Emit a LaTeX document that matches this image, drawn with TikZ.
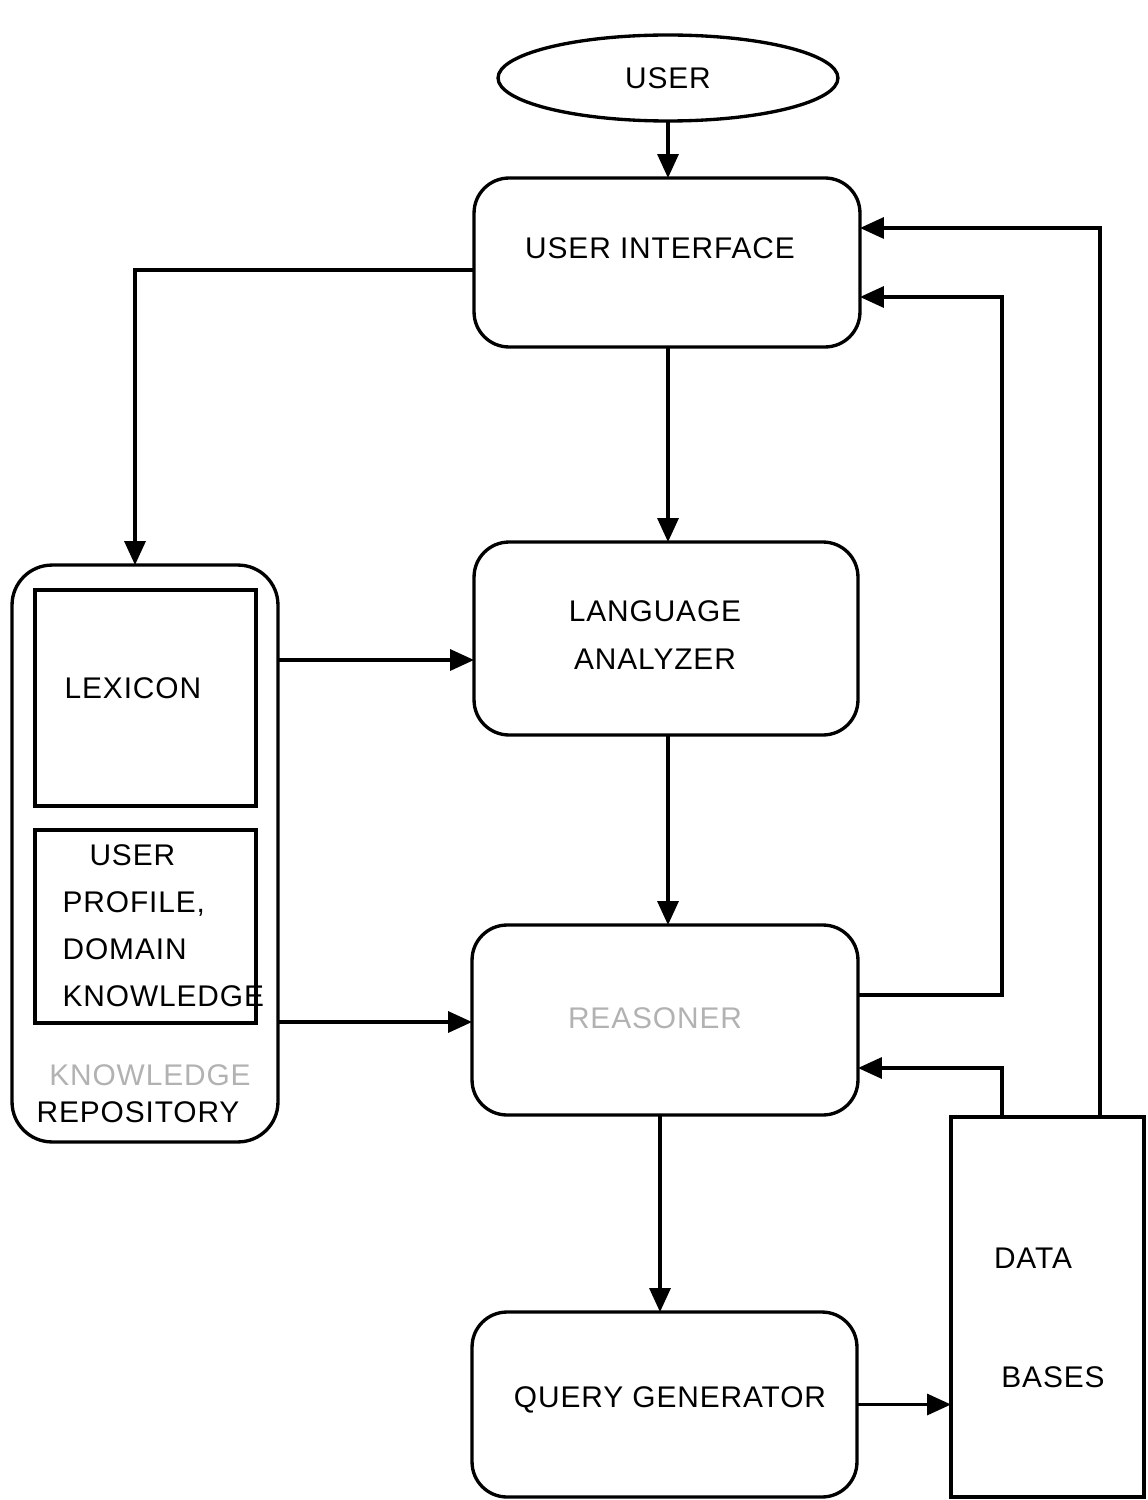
\documentclass[tikz,border=0pt]{standalone}
\usepackage{fontspec}
\setmainfont{Liberation Sans}[LetterSpace=3]
\usetikzlibrary{arrows.meta,shapes.geometric}
\begin{document}
\begin{tikzpicture}[x=0.02cm,y=-0.02cm,
  line width=1.9pt,
  txt/.style={font=\fontsize{17}{27}\selectfont, inner sep=0pt, align=center},
  ltxt/.style={font=\fontsize{17}{27}\selectfont, inner sep=0pt, align=left, anchor=west},
  faded/.style={text=black!30},
  rbox/.style={draw, rounded corners=0.7cm, inner sep=0pt, outer sep=0pt},
  sbox/.style={draw, inner sep=0pt, outer sep=0pt},
  arr/.style={-{Triangle[length=0.48cm,width=0.42cm]}}]
\useasboundingbox (0,0) rectangle (1147,1500);

% shapes
\node[draw, ellipse, minimum width=6.8cm, minimum height=1.72cm, inner sep=0pt, outer sep=0pt] (user) at (668,78) {};
\node[rbox, minimum width=7.72cm, minimum height=3.38cm] (ui) at (667,262.5) {};
\node[rbox, minimum width=7.68cm, minimum height=3.86cm] (la) at (666,638.5) {};
\node[rbox, minimum width=7.72cm, minimum height=3.8cm] (rs) at (665,1020) {};
\node[rbox, minimum width=7.7cm, minimum height=3.7cm] (qg) at (664.5,1404.5) {};
\node[draw, rounded corners=0.8cm, inner sep=0pt, outer sep=0pt, minimum width=5.32cm, minimum height=11.54cm] (repo) at (145,853.5) {};
\node[sbox, minimum width=4.42cm, minimum height=4.32cm] (lex) at (145.5,698) {};
\node[sbox, minimum width=4.42cm, minimum height=3.86cm] (prof) at (145.5,926.5) {};
\node[sbox, minimum width=3.86cm, minimum height=7.6cm] (db) at (1047.5,1307) {};

% texts
\node[txt] (tuser) at (668,78) {USER};
\node[txt] (tui) at (660,248) {USER INTERFACE};
\node[txt] (tla) at (655,635) {LANGUAGE\\ANALYZER};
\node[txt, faded] (trs) at (655,1018) {REASONER};
\node[txt] (tqg) at (670,1400) {QUERY GENERATOR};
\node[ltxt] (tlex) at (63,688) {LEXICON};
\node[ltxt, font=\fontsize{17}{26.7}\selectfont] (tprof) at (61,926) {\hspace{0.9em}USER\\PROFILE,\\DOMAIN\\KNOWLEDGE};
\node[txt, faded] (tkn) at (150,1075) {KNOWLEDGE};
\node[txt] (trep) at (138,1112) {REPOSITORY};
\node[txt] (tdata) at (1033,1258) {DATA};
\node[txt] (tbases) at (1053,1377) {BASES};

% junction coordinates
\coordinate (c1) at (1002,297);
\coordinate (c2) at (135,270);

% connectors
\draw[arr] (user.south) -- (user.south |- ui.north);
\draw[arr] (ui.south -| user.south) -- (la.north -| user.south);
\draw[arr] (la.south -| user.south) -- (rs.north -| user.south);
\draw[arr] (rs.south -| 660,0) -- (qg.north -| 660,0);
\draw[arr] (ui.west |- c2) -- (c2) -- (c2 |- repo.north);
\draw[arr] (repo.east |- 0,660) -- (la.west |- 0,660);
\draw[arr] (repo.east |- 0,1022) -- (rs.west |- 0,1022);
\draw[arr] (rs.east |- 0,995) -| (c1) -- (ui.east |- c1);
\draw[arr] (db.north -| 1100,0) |- (ui.east |- 0,228);
\draw[arr] (db.north -| c1) |- (rs.east |- 0,1068);
\draw[arr] (qg.east) -- (qg.east -| db.west);
\end{tikzpicture}
\end{document}
